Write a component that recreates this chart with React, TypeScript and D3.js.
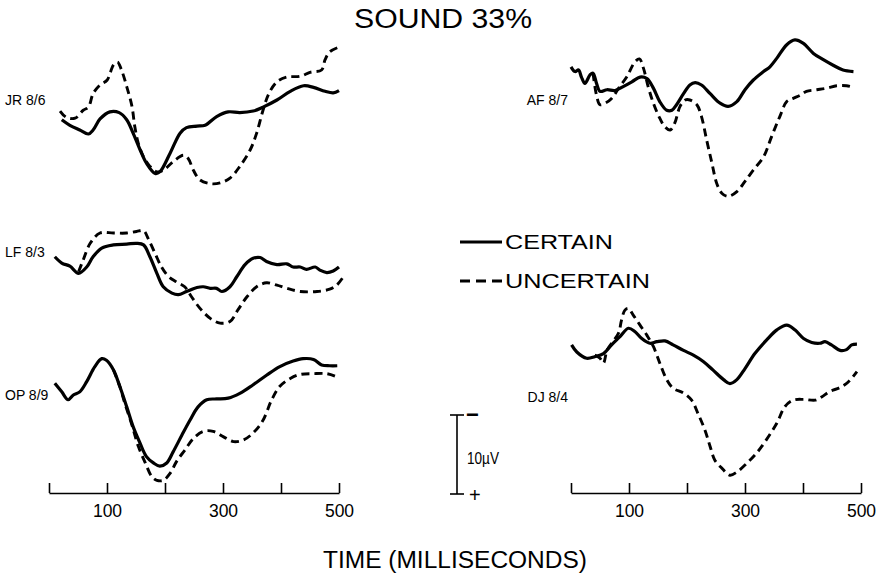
import { useEffect, useRef } from "react";
import * as d3 from "d3";

// [time ms, amplitude µV] -- positive values plotted downward (negative up)
const jrCertain = [[22,2.5],[36,3.2],[53,3.8],[68,4.3],[76,3.8],[88,2.4],[105,1.5],[121,1.6],[134,2.5],[145,4.2],[157,6.3],[168,8.0],[183,9.3],[191,9.1],[209,6.7],[226,4.2],[237,3.5],[255,3.3],[269,3.2],[289,2.1],[309,1.5],[329,1.6],[352,1.4],[369,0.9],[393,0],[416,-1.1],[439,-1.8],[456,-1.6],[476,-1.1],[490,-0.9],[500,-1.2]];
const jrUncertain = [[19,1.4],[30,2.2],[45,2.3],[59,1.3],[68,0.9],[76,-0.8],[88,-1.9],[100,-2.5],[111,-4.4],[118,-4.8],[125,-3.8],[134,-1.7],[143,0.8],[148,3.4],[154,5.5],[163,7.2],[174,8.4],[186,9.1],[197,8.9],[214,7.8],[232,7.0],[240,7.4],[249,8.9],[260,10.1],[279,10.6],[295,10.5],[312,9.9],[329,8.4],[347,6.3],[358,4.2],[369,1.3],[379,-0.8],[393,-2.3],[410,-2.9],[433,-3.0],[450,-3.5],[470,-3.8],[476,-5.1],[484,-6.1],[500,-6.7]];

const lfCertain = [[10,0.6],[22,1.4],[36,1.8],[51,2.7],[65,1.9],[76,0.6],[91,-0.5],[111,-0.9],[134,-1.0],[151,-1.1],[163,-0.9],[174,0.6],[186,2.7],[197,4.4],[212,5.2],[223,5.4],[237,5.0],[255,4.5],[266,4.4],[278,4.6],[289,4.6],[298,5.0],[312,4.4],[324,3.1],[338,1.6],[352,0.8],[364,0.7],[375,1.2],[393,1.6],[410,1.5],[421,1.9],[433,1.9],[444,2.2],[459,1.9],[467,2.3],[479,2.6],[490,2.4],[500,1.9]];
const lfUncertain = [[51,2.5],[59,1.0],[71,-1.1],[88,-2.4],[111,-2.4],[134,-2.4],[151,-2.6],[163,-2.7],[171,-1.7],[183,0.2],[194,1.9],[206,3.1],[220,3.8],[234,4.4],[246,5.7],[260,7.1],[278,8.4],[295,9.0],[312,8.8],[326,7.3],[341,5.7],[358,4.4],[375,3.9],[393,4.2],[410,4.6],[433,5.0],[462,5.0],[484,4.7],[496,4.2],[507,3.2]];

const opCertain = [[10,-1.5],[22,-0.4],[33,0.6],[42,0],[53,-0.4],[65,-1.7],[79,-3.6],[91,-4.6],[99,-4.4],[111,-3.2],[122,-1.1],[134,1.5],[145,4.0],[157,6.1],[168,7.8],[180,8.6],[191,9.0],[203,8.6],[214,7.2],[229,5.1],[243,3.2],[257,1.5],[272,0.6],[289,0.5],[309,0.4],[329,-0.2],[352,-1.3],[375,-2.5],[398,-3.6],[421,-4.3],[438,-4.6],[456,-4.5],[470,-3.8],[484,-3.7],[497,-3.7]];
const opUncertain = [[111,-3.2],[122,-1.1],[131,1.1],[143,3.8],[154,6.5],[166,8.6],[177,10.3],[186,10.8],[197,10.8],[209,9.9],[220,8.4],[234,7.0],[249,5.5],[266,4.6],[283,4.6],[301,5.3],[318,5.9],[335,5.7],[352,4.8],[369,3.2],[384,0.6],[398,-1.1],[416,-2.1],[433,-2.6],[456,-2.7],[479,-2.7],[493,-2.4]];

const afCertain = [[0,-4.2],[7,-3.6],[13,-3.8],[18,-2.9],[24,-2.1],[33,-3.2],[38,-3.4],[44,-2.1],[50,-1.1],[62,-1.3],[76,-1.2],[90,-1.7],[105,-2.3],[119,-2.9],[131,-2.7],[142,-1.5],[153,0.2],[165,1.3],[174,1.3],[182,0.6],[194,-0.8],[205,-1.9],[214,-2.2],[225,-1.9],[240,-0.8],[257,0.4],[271,0.8],[286,0.2],[300,-1.3],[314,-2.5],[332,-3.6],[343,-4.2],[355,-5.3],[372,-7.0],[386,-7.6],[400,-7.2],[418,-5.9],[435,-5.1],[452,-4.4],[469,-3.8],[487,-3.6]];
const afUncertain = [[38,-3.4],[44,-0.6],[50,0.6],[59,0.4],[70,-0.2],[84,-1.7],[96,-2.9],[110,-4.8],[118,-5.2],[125,-4.0],[133,-1.7],[142,0.4],[153,2.3],[162,3.4],[171,3.8],[179,2.9],[188,0.8],[197,0],[205,0],[217,0.6],[225,2.1],[234,5.1],[243,8.0],[251,10.5],[260,11.8],[271,12.2],[286,11.6],[300,10.3],[314,8.9],[332,7.2],[346,4.6],[360,2.1],[372,0.2],[383,-0.2],[395,-0.6],[406,-1.1],[424,-1.3],[441,-1.5],[458,-1.8],[475,-1.8],[487,-1.6]];

const djCertain = [[1,-6.6],[10,-5.7],[27,-4.9],[41,-5.1],[56,-5.5],[70,-6.6],[84,-7.6],[99,-8.7],[110,-8.3],[122,-7.4],[136,-6.8],[148,-7.0],[162,-7.1],[176,-6.6],[194,-5.9],[211,-5.3],[228,-4.5],[245,-3.4],[263,-2.2],[274,-1.7],[286,-2.2],[300,-3.6],[317,-5.5],[337,-7.2],[355,-8.5],[372,-9.1],[386,-8.5],[401,-7.4],[415,-6.9],[429,-6.8],[438,-7.0],[449,-6.6],[464,-5.9],[475,-6.0],[484,-6.6],[493,-6.7]];
const djUncertain = [[41,-5.3],[50,-4.9],[56,-4.3],[62,-5.9],[70,-6.8],[82,-8.1],[87,-9.7],[93,-11.0],[99,-11.2],[107,-10.4],[119,-9.1],[131,-7.8],[142,-6.4],[153,-4.3],[165,-2.2],[176,-1.1],[194,-0.5],[208,0.4],[219,2.1],[231,4.2],[240,6.3],[248,8.0],[260,9.0],[274,9.9],[286,9.5],[303,8.4],[320,7.1],[337,5.4],[355,3.3],[369,1.2],[383,0.4],[401,0.3],[421,0.4],[432,0],[446,-0.7],[464,-1.2],[478,-1.9],[493,-3.2]];

const panels = [
  { label: "JR 8/6", side: "left", certain: jrCertain, uncertain: jrUncertain },
  { label: "LF 8/3", side: "left", certain: lfCertain, uncertain: lfUncertain },
  { label: "OP 8/9", side: "left", certain: opCertain, uncertain: opUncertain },
  { label: "AF 8/7", side: "right", certain: afCertain, uncertain: afUncertain },
  { label: "DJ 8/4", side: "right", certain: djCertain, uncertain: djUncertain },
];

const tickValues = [0, 100, 200, 300, 400, 500];
const tickLabels = ["", "100", "", "300", "", "500"];

const title = "SOUND 33%";
const xTitle = "TIME (MILLISECONDS)";
const legendLabels = ["CERTAIN", "UNCERTAIN"];
const scaleBarValue = 10;

const FONT = "'Liberation Sans', Arial, Helvetica, sans-serif";

const App = () => {
  const svgRef = useRef<SVGSVGElement>(null);

  useEffect(() => {
    const width = 884;
    const height = 576;
    const svg = d3.select(svgRef.current);
    svg.selectAll("*").remove();
    svg.attr("width", width).attr("height", height).style("background", "#fff");

    const axisY = 493;
    const baselines = [100, 252, 395, 100, 397];
    const pxPer10uV = 79;

    const xLeft = d3.scaleLinear().domain([0, 500]).range([49, 339]);
    const xRight = d3.scaleLinear().domain([0, 500]).range([571, 861]);

    panels.forEach((p, i) => {
      const x = p.side === "left" ? xLeft : xRight;
      const base = baselines[i];
      const y = d3.scaleLinear().domain([0, scaleBarValue]).range([base, base + pxPer10uV]);
      const line = d3
        .line<number[]>()
        .x((d) => x(d[0]))
        .y((d) => y(d[1]))
        .curve(d3.curveCatmullRom.alpha(0.5));

      svg
        .append("path")
        .attr("d", line(p.uncertain))
        .attr("fill", "none")
        .attr("stroke", "#000")
        .attr("stroke-width", 2.9)
        .attr("stroke-dasharray", "8,5");

      svg
        .append("path")
        .attr("d", line(p.certain))
        .attr("fill", "none")
        .attr("stroke", "#000")
        .attr("stroke-width", 3.2)
        .attr("stroke-linejoin", "round");

      svg
        .append("text")
        .attr("x", p.side === "left" ? 5 : 568)
        .attr("y", base + 5)
        .attr("text-anchor", p.side === "left" ? "start" : "end")
        .style("font-family", FONT)
        .style("font-size", "14px")
        .text(p.label);
    });

    // x axes
    [xLeft, xRight].forEach((x) => {
      const axis = d3
        .axisBottom(x)
        .tickValues(tickValues)
        .tickSize(-10)
        .tickSizeOuter(0)
        .tickPadding(12)
        .tickFormat((d, i) => tickLabels[i]);
      const g = svg.append("g").attr("transform", `translate(0,${axisY})`).call(axis);
      g.selectAll("path, line").attr("stroke", "#000").attr("stroke-width", 1.6);
      g.selectAll("text")
        .attr("fill", "#000")
        .style("font-family", FONT)
        .style("font-size", "17.5px");
    });

    // title
    svg
      .append("text")
      .attr("x", 443)
      .attr("y", 28)
      .attr("text-anchor", "middle")
      .attr("textLength", 178)
      .attr("lengthAdjust", "spacingAndGlyphs")
      .style("font-family", FONT)
      .style("font-size", "27px")
      .text(title);

    svg
      .append("text")
      .attr("x", 455)
      .attr("y", 568)
      .attr("text-anchor", "middle")
      .attr("textLength", 264)
      .attr("lengthAdjust", "spacingAndGlyphs")
      .style("font-family", FONT)
      .style("font-size", "23px")
      .text(xTitle);

    // legend
    const legend = svg.append("g");
    legendLabels.forEach((lbl, i) => {
      const ly = 242 + i * 39;
      legend
        .append("line")
        .attr("x1", 460)
        .attr("x2", 502)
        .attr("y1", ly)
        .attr("y2", ly)
        .attr("stroke", "#000")
        .attr("stroke-width", 3)
        .attr("stroke-dasharray", i === 0 ? null : "10,6");
      legend
        .append("text")
        .attr("x", 505)
        .attr("y", ly + 7)
        .attr("textLength", i === 0 ? 108 : 145)
        .attr("lengthAdjust", "spacingAndGlyphs")
        .style("font-family", FONT)
        .style("font-size", "20px")
        .text(lbl);
    });

    // scale bar
    const sb = d3.scaleLinear().domain([0, scaleBarValue]).range([415, 415 + pxPer10uV]);
    const bar = svg.append("g").attr("stroke", "#000").attr("stroke-width", 1.6);
    bar.append("line").attr("x1", 457).attr("x2", 457).attr("y1", sb(0)).attr("y2", sb(scaleBarValue));
    bar.append("line").attr("x1", 450).attr("x2", 464).attr("y1", sb(0)).attr("y2", sb(0));
    bar.append("line").attr("x1", 450).attr("x2", 464).attr("y1", sb(scaleBarValue)).attr("y2", sb(scaleBarValue));
    svg
      .append("text")
      .attr("x", 466)
      .attr("y", sb(0) + 7)
      .style("font-family", FONT)
      .style("font-size", "22px")
      .style("font-weight", "bold")
      .text("\u2212");
    svg
      .append("text")
      .attr("x", 469)
      .attr("y", sb(scaleBarValue) + 8)
      .style("font-family", FONT)
      .style("font-size", "20px")
      .text("+");
    svg
      .append("text")
      .attr("x", 467)
      .attr("y", sb(scaleBarValue / 2) + 9)
      .attr("textLength", 32)
      .attr("lengthAdjust", "spacingAndGlyphs")
      .style("font-family", FONT)
      .style("font-size", "17px")
      .text(`${scaleBarValue}\u00b5V`);
  }, []);

  return (
    <div style={{ position: "absolute", left: 0, top: 0 }}>
      <svg ref={svgRef} style={{ display: "block" }}></svg>
    </div>
  );
};

export default App;
